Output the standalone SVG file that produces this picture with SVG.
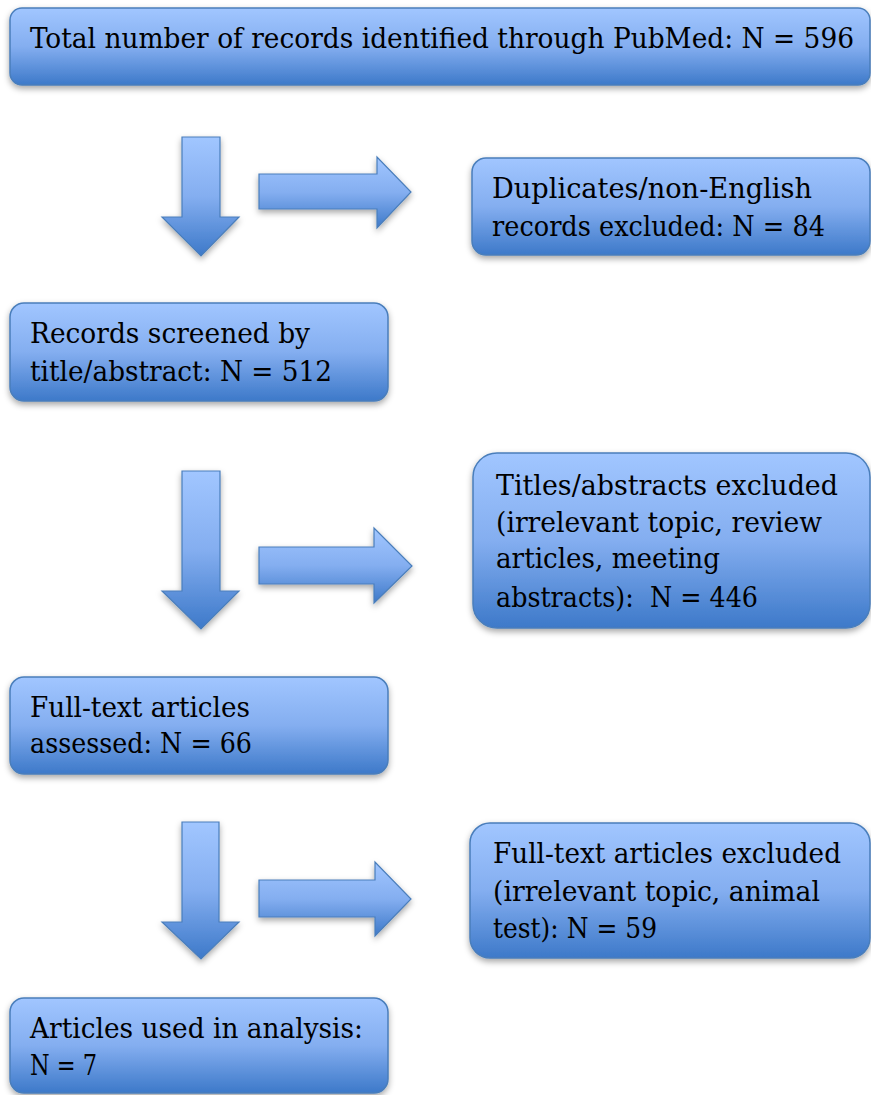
<svg xmlns="http://www.w3.org/2000/svg" width="871" height="1095" viewBox="0 0 871 1095">
<defs>
<linearGradient id="g" x1="0" y1="0" x2="0" y2="1">
<stop offset="0" stop-color="#a1c6ff"/>
<stop offset="0.5" stop-color="#84aef0"/>
<stop offset="1" stop-color="#3d79c9"/>
</linearGradient>
<filter id="sh" x="-10%" y="-10%" width="120%" height="130%">
<feDropShadow dx="0" dy="3" stdDeviation="3" flood-color="#000" flood-opacity="0.35"/>
</filter>
<style>
.box{fill:url(#g);stroke:#4a7ebb;stroke-width:1.5;filter:url(#sh)}
.arr{fill:url(#g);stroke:#4a7ebb;stroke-width:1.2;filter:url(#sh)}
text{font-family:"DejaVu Serif","Liberation Serif",serif;font-size:28px;fill:#000}
.cond{font-stretch:condensed;font-size:27px}
</style>
</defs>
<g id="connectors">
<path class="arr" d="M182,137 H220 V217 H239 L201,256 L162,217 H182 Z"/>
<path class="arr" d="M259,174 H377 V157 L411,192 L377,228 V209 H259 Z"/>
<path class="arr" d="M182,471 H220 V591 H239 L201,629 L162,591 H182 Z"/>
<path class="arr" d="M259,547 H374 V528 L412,566 L374,603 V584 H259 Z"/>
<path class="arr" d="M182,822 H219 V922 H239 L201,959 L162,922 H182 Z"/>
<path class="arr" d="M259,880 H375 V862 L411,899 L375,936 V917 H259 Z"/>
</g>
<g id="n1">
<rect class="box" x="10" y="8" width="860" height="77" rx="12"/>
<text class="cond" x="30" y="48" textLength="824" lengthAdjust="spacingAndGlyphs">Total number of records identified through PubMed: N = 596</text>
</g>
<g id="n2">
<rect class="box" x="472" y="158" width="398" height="97" rx="14"/>
<text x="492" y="198" textLength="320" lengthAdjust="spacingAndGlyphs">Duplicates/non-English</text>
<text x="492" y="236" textLength="333" lengthAdjust="spacingAndGlyphs">records excluded: N = 84</text>
</g>
<g id="n3">
<rect class="box" x="10" y="303" width="378" height="98" rx="14"/>
<text x="30" y="343" textLength="280" lengthAdjust="spacingAndGlyphs">Records screened by</text>
<text x="30" y="381" textLength="302" lengthAdjust="spacingAndGlyphs">title/abstract: N = 512</text>
</g>
<g id="n4">
<rect class="box" x="473" y="453" width="397" height="175" rx="24"/>
<text x="496" y="495" textLength="342" lengthAdjust="spacingAndGlyphs">Titles/abstracts excluded</text>
<text x="496" y="532" textLength="326" lengthAdjust="spacingAndGlyphs">(irrelevant topic, review</text>
<text x="496" y="568" textLength="224" lengthAdjust="spacingAndGlyphs">articles, meeting</text>
<text x="496" y="607" textLength="262" lengthAdjust="spacingAndGlyphs" xml:space="preserve">abstracts):  N = 446</text>
</g>
<g id="n5">
<rect class="box" x="10" y="677" width="378" height="97" rx="14"/>
<text x="30" y="717" textLength="220" lengthAdjust="spacingAndGlyphs">Full-text articles</text>
<text x="30" y="753" textLength="222" lengthAdjust="spacingAndGlyphs">assessed: N = 66</text>
</g>
<g id="n6">
<rect class="box" x="470" y="823" width="400" height="135" rx="20"/>
<text x="493" y="863" textLength="348" lengthAdjust="spacingAndGlyphs">Full-text articles excluded</text>
<text x="493" y="901" textLength="327" lengthAdjust="spacingAndGlyphs">(irrelevant topic, animal</text>
<text x="493" y="938" textLength="164" lengthAdjust="spacingAndGlyphs">test): N = 59</text>
</g>
<g id="n7">
<rect class="box" x="10" y="998" width="378" height="95" rx="14"/>
<text x="30" y="1038" textLength="333" lengthAdjust="spacingAndGlyphs">Articles used in analysis:</text>
<text x="30" y="1075" textLength="67" lengthAdjust="spacingAndGlyphs">N = 7</text>
</g>
</svg>
